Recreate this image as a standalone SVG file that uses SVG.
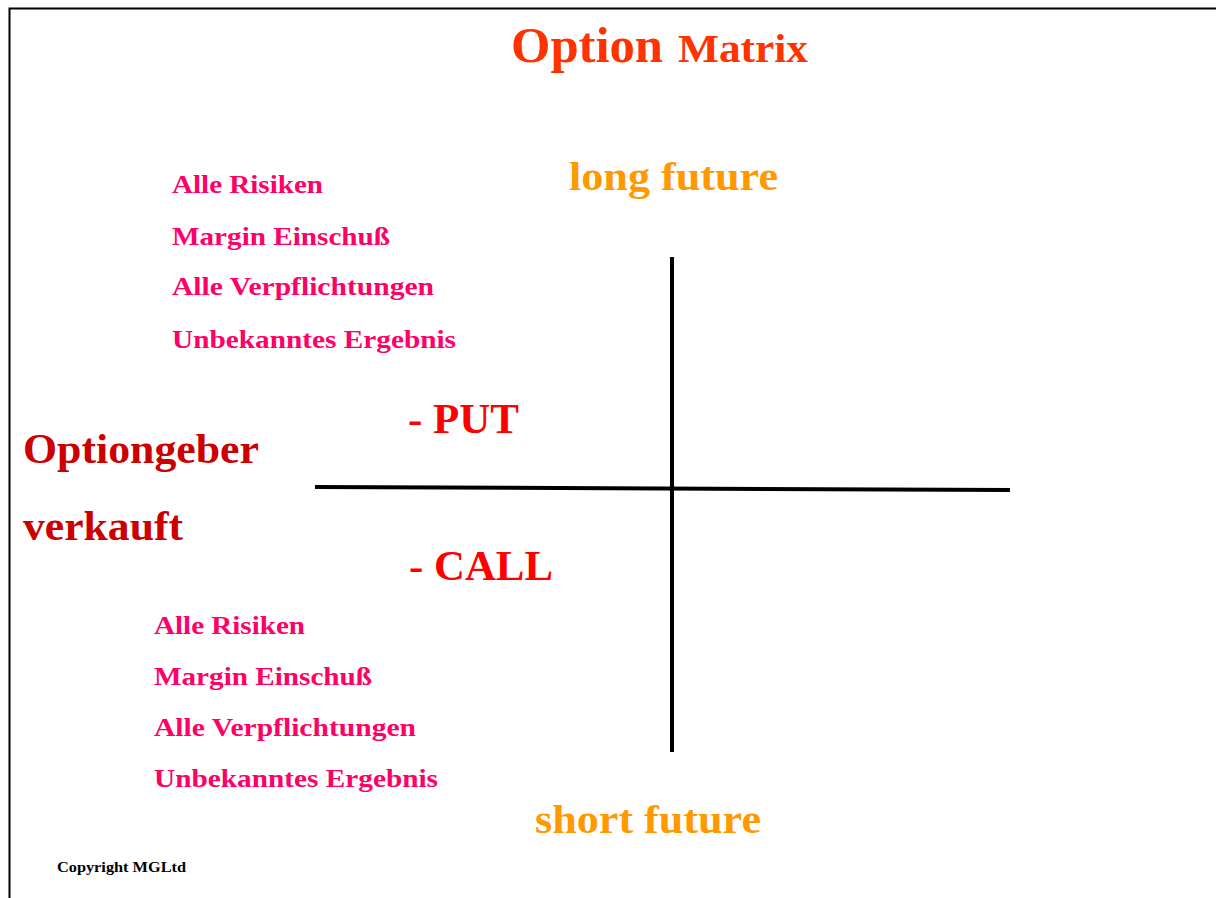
<svg xmlns="http://www.w3.org/2000/svg" width="1216" height="898" viewBox="0 0 1216 898">
<style>
text{font-family:"Liberation Serif","Times New Roman",serif;font-weight:bold}
.pink{fill:#FF0066;font-size:26px}
.orange{fill:#FF9900;font-size:40px}
.red{fill:#FF0000;font-size:42px}
.dark{fill:#CC0000;font-size:42px}
.title{fill:#FF3300}
.axis{stroke:#000;stroke-width:4;fill:none}
</style>
<rect x="0" y="0" width="1216" height="898" fill="#fff"/>
<path d="M9.5 900 V8.5 H1220" fill="none" stroke="#000" stroke-width="2"/>
<g id="title">
<text class="title" x="511" y="62" font-size="50" textLength="152" lengthAdjust="spacingAndGlyphs">Option</text>
<text class="title" x="678" y="62" font-size="40" textLength="130" lengthAdjust="spacingAndGlyphs">Matrix</text>
</g>
<g id="connectors">
<line class="axis" x1="672" y1="257" x2="672" y2="752"/>
<line class="axis" x1="315" y1="487" x2="1010" y2="490"/>
</g>
<g id="long-future"><text class="orange" x="569" y="190" textLength="209" lengthAdjust="spacingAndGlyphs">long future</text></g>
<g id="short-future"><text class="orange" x="535" y="833" textLength="226" lengthAdjust="spacingAndGlyphs">short future</text></g>
<g id="top-list">
<text class="pink" x="172" y="193" textLength="151" lengthAdjust="spacingAndGlyphs">Alle Risiken</text>
<text class="pink" x="172" y="245" textLength="218" lengthAdjust="spacingAndGlyphs">Margin Einschuß</text>
<text class="pink" x="172" y="295" textLength="262" lengthAdjust="spacingAndGlyphs">Alle Verpflichtungen</text>
<text class="pink" x="172" y="348" textLength="284" lengthAdjust="spacingAndGlyphs">Unbekanntes Ergebnis</text>
</g>
<g id="bottom-list">
<text class="pink" x="154" y="634" textLength="151" lengthAdjust="spacingAndGlyphs">Alle Risiken</text>
<text class="pink" x="154" y="685" textLength="218" lengthAdjust="spacingAndGlyphs">Margin Einschuß</text>
<text class="pink" x="154" y="736" textLength="262" lengthAdjust="spacingAndGlyphs">Alle Verpflichtungen</text>
<text class="pink" x="154" y="787" textLength="284" lengthAdjust="spacingAndGlyphs">Unbekanntes Ergebnis</text>
</g>
<g id="optiongeber">
<text class="dark" x="23" y="463" textLength="236" lengthAdjust="spacingAndGlyphs">Optiongeber</text>
<text class="dark" x="23" y="540" textLength="160" lengthAdjust="spacingAndGlyphs">verkauft</text>
</g>
<g id="put"><text class="red" x="408" y="433" textLength="111" lengthAdjust="spacingAndGlyphs">- PUT</text></g>
<g id="call"><text class="red" x="409" y="580" textLength="144" lengthAdjust="spacingAndGlyphs">- CALL</text></g>
<g id="copyright"><text x="57" y="872" font-size="14" fill="#000" textLength="129" lengthAdjust="spacingAndGlyphs">Copyright MGLtd</text></g>
</svg>
